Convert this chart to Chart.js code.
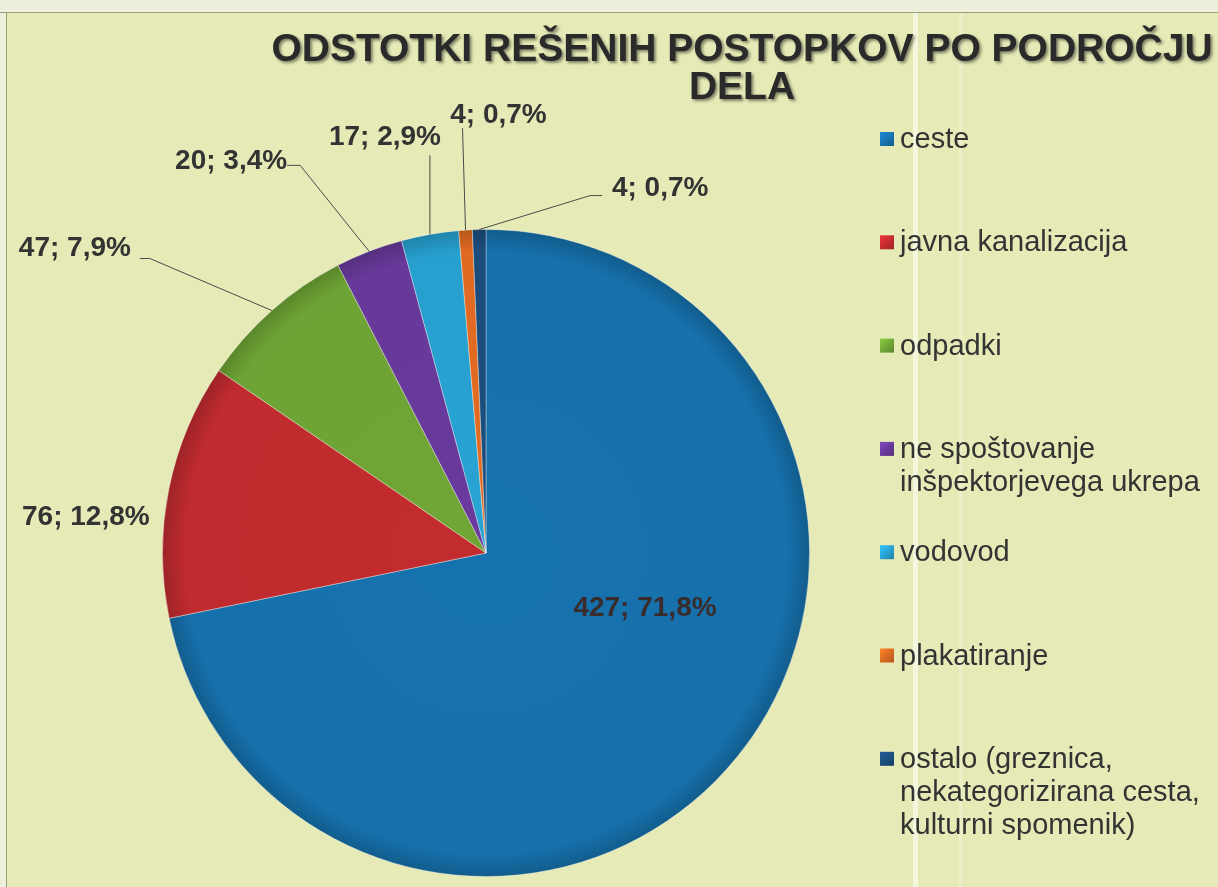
<!DOCTYPE html>
<html>
<head>
<meta charset="utf-8">
<script src="https://cdn.jsdelivr.net/npm/chart.js@4.4.1/dist/chart.umd.min.js"></script>
<style>
  html, body { margin: 0; padding: 0; background: #e6eab6; }
  #wrap { width: 1218px; height: 887px; position: relative; }
</style>
</head>
<body>
<div id="wrap"><canvas id="pieChart" width="1218" height="887"></canvas></div>
<script>
const titleLines = ['ODSTOTKI REŠENIH POSTOPKOV PO PODROČJU', 'DELA'];
const categories = [
    'ceste',
    'javna kanalizacija',
    'odpadki',
    ['ne spoštovanje', 'inšpektorjevega ukrepa'],
    'vodovod',
    'plakatiranje',
    ['ostalo (greznica,', 'nekategorizirana cesta,', 'kulturni spomenik)']
];
const counts = [427, 76, 47, 20, 17, 4, 4];
const colors = ['#1670ab', '#bf2b2e', '#6ea335', '#67399a', '#27a0cf', '#e06a22', '#1b4d7c'];

// where each data label sits, relative to the slice's outer midpoint (or the centre)
const labelPlacement = [
    { from: 'center', dx: 159, dy: 55 },
    { dx: -83, dy: 28 },
    { dx: -197, dy: -62, line: [[-122, -52], [-132, -52]] },
    { dx: -138, dy: -90, line: [[-69, -86], [-82, -86]] },
    { dx: -45, dy: -97, line: [[0, -79]] },
    { dx: 33, dy: -115, line: [[-3, -102]] },
    { dx: 181, dy: -41, line: [[111, -34], [123, -34]] }
];

const total = counts.reduce((a, b) => a + b, 0);
const pctText = v => (v / total * 100).toFixed(1).replace('.', ',') + '%';

function shade(hex, f) {
    const n = parseInt(hex.slice(1), 16);
    const r = Math.round(((n >> 16) & 255) * f), g = Math.round(((n >> 8) & 255) * f), b = Math.round((n & 255) * f);
    return `rgb(${Math.min(r,255)},${Math.min(g,255)},${Math.min(b,255)})`;
}

// paper colour of the scan, its top/left edges and the fold lines
const background = {
    id: 'background',
    beforeDraw(chart) {
        const c = chart.ctx;
        c.save();
        c.fillStyle = '#e6eab6';
        c.fillRect(0, 0, chart.width, chart.height);
        c.fillStyle = '#eef0dc';
        c.fillRect(0, 0, chart.width, 12);
        c.fillRect(0, 0, 6, chart.height);
        c.fillStyle = '#9aa07a';
        c.fillRect(0, 12, chart.width, 1);
        c.fillRect(6, 12, 1, chart.height);
        c.fillStyle = 'rgba(255,255,255,0.55)';
        c.fillRect(913, 13, 5, chart.height);
        c.fillStyle = 'rgba(255,255,255,0.25)';
        c.fillRect(959, 13, 3, chart.height);
        c.restore();
    }
};

const titleAndLegend = {
    id: 'titleAndLegend',
    afterDraw(chart) {
        const c = chart.ctx;
        c.save();
        // title
        c.font = 'bold 39px "Liberation Sans", Arial, sans-serif';
        c.textAlign = 'center';
        c.textBaseline = 'middle';
        c.shadowColor = 'rgba(0,0,0,0.45)';
        c.shadowOffsetX = 2;
        c.shadowOffsetY = 2;
        c.shadowBlur = 3;
        c.fillStyle = '#2a2a2a';
        c.fillText(titleLines[0], 742, 50);
        c.fillText(titleLines[1], 742, 88);
        c.shadowColor = 'transparent';

        // legend
        c.font = '29px "Liberation Sans", Arial, sans-serif';
        c.textAlign = 'left';
        categories.forEach((lab, i) => {
            const y = 140 + i * 103.3;
            const lines = Array.isArray(lab) ? lab : [lab];
            const g = c.createLinearGradient(880, y - 8, 894, y + 7);
            g.addColorStop(0, shade(colors[i], 1.25));
            g.addColorStop(1, shade(colors[i], 0.8));
            c.fillStyle = g;
            c.fillRect(880, y - 8, 14, 14);
            c.fillStyle = '#333';
            lines.forEach((t, k) => c.fillText(t, 900, y + k * 33));
        });

        // data labels
        const meta = chart.getDatasetMeta(0);
        c.font = 'bold 28px "Liberation Sans", Arial, sans-serif';
        c.textAlign = 'center';
        c.strokeStyle = '#4a4a4a';
        c.lineWidth = 1;
        meta.data.forEach((arc, i) => {
            const p = labelPlacement[i];
            const mid = (arc.startAngle + arc.endAngle) / 2;
            const ax = p.from === 'center' ? arc.x : arc.x + Math.cos(mid) * arc.outerRadius;
            const ay = p.from === 'center' ? arc.y : arc.y + Math.sin(mid) * arc.outerRadius;
            if (p.line) {
                c.beginPath();
                c.moveTo(ax, ay);
                p.line.forEach(([lx, ly]) => c.lineTo(ax + lx, ay + ly));
                c.stroke();
            }
            c.fillStyle = i === 0 ? '#3a2c2c' : '#333';
            c.fillText(counts[i] + '; ' + pctText(counts[i]), ax + p.dx, ay + p.dy);
        });
        c.restore();
    }
};

const ctx = document.getElementById('pieChart');

new Chart(ctx, {
    type: 'pie',
    data: {
        labels: categories,
        datasets: [{
            data: counts,
            backgroundColor: (context) => {
                const chart = context.chart;
                const area = chart.chartArea;
                const col = colors[context.dataIndex];
                if (!area) return col;
                const cx = (area.left + area.right) / 2, cy = (area.top + area.bottom) / 2;
                const r = Math.min(area.right - area.left, area.bottom - area.top) / 2;
                const g = chart.ctx.createRadialGradient(cx, cy, 0, cx, cy, r);
                g.addColorStop(0, shade(col, 1.02));
                g.addColorStop(0.93, col);
                g.addColorStop(1, shade(col, 0.82));
                return g;
            },
            borderColor: 'rgba(255,255,255,0.35)',
            borderWidth: 1
        }]
    },
    options: {
        responsive: false,
        animation: false,
        layout: { padding: { left: 162, right: 408, top: 229, bottom: 10 } },
        plugins: {
            legend: { display: false },
            title: { display: false },
            tooltip: { enabled: false }
        }
    },
    plugins: [background, titleAndLegend]
});
</script>
</body>
</html>
